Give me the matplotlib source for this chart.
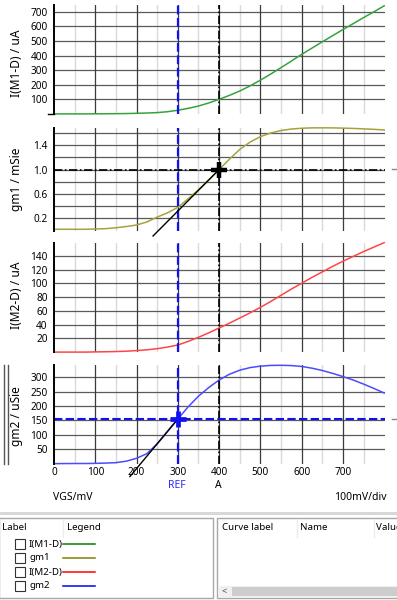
import matplotlib
matplotlib.use("Agg")
import matplotlib.pyplot as plt
from matplotlib.patches import Rectangle
from matplotlib.lines import Line2D

plt.rcParams['font.family'] = ['Noto Sans', 'DejaVu Sans']

# ---------------- data ----------------
vgs = [0, 25, 50, 75, 100, 125, 150, 175, 200, 225, 250, 275, 300, 325, 350, 375, 400,
       425, 450, 475, 500, 525, 550, 575, 600, 625, 650, 675, 700, 725, 750, 775, 800]
i_m1 = [0, 0, 0, 0, 0.5, 1, 1.5, 2.5, 4, 6, 9, 15, 25, 38, 54, 75, 100,
        127, 157, 192, 231, 273, 317, 362, 408, 451, 494, 536, 578, 619, 660, 700, 741]
gm1 = [0.02, 0.02, 0.02, 0.02, 0.025, 0.03, 0.045, 0.065, 0.09, 0.14, 0.22, 0.29, 0.38, 0.52, 0.67, 0.83, 1.0,
       1.17, 1.33, 1.45, 1.54, 1.60, 1.64, 1.665, 1.678, 1.684, 1.685, 1.684, 1.68, 1.675, 1.668, 1.66, 1.65]
i_m2 = [0, 0, 0, 0, 0.3, 0.5, 0.8, 1.3, 2.2, 3.3, 5, 7.3, 10.3, 15.5, 21.5, 28, 35,
        42, 49.5, 57, 65, 73.5, 82.5, 91.5, 100, 108.5, 116.5, 124.5, 132, 139, 146, 152.5, 159]
gm2 = [0.5, 0.8, 1, 1, 1.5, 2.5, 4, 9, 19, 35, 69, 112, 155, 197, 234, 264, 290,
       310, 324, 333, 338, 340.5, 341, 340, 337, 331, 323, 313, 302, 290, 276, 261, 245]

x_ticks = [0, 100, 200, 300, 400, 500, 600, 700]
ref_x = 300
a_x = 400
gm1_at_a = 1.0
gm2_at_ref = 155
tangent1_x = [240, 400]
tangent1_y = [-0.09, 1.0]
tangent2_x = [184, 300]
tangent2_y = [-44, 155]

series_names = ['I(M1-D)', 'gm1', 'I(M2-D)', 'gm2']
curve_colors = ['#35a33c', '#a6a23e', '#ff4545', '#4b4bff']
legend_colors = ['#008000', '#808000', '#ff0000', '#0000ff']
y_labels = ['I(M1-D) / uA', 'gm1 / mSie', 'I(M2-D) / uA', 'gm2 / uSie']

panels = [
    dict(y=i_m1, top=4.5, bottom=113.9, ylim=750, grid=[100, 200, 300, 400, 500, 600, 700],
         ticks=[100, 200, 300, 400, 500, 600, 700], fmt='{:.0f}', lab_y=63),
    dict(y=gm1, top=127.7, bottom=230.5, ylim=1.687, grid=[0.2, 0.4, 0.6, 0.8, 1.0, 1.2, 1.4, 1.6],
         ticks=[0.2, 0.6, 1.0, 1.4], fmt='{:.1f}', lab_y=179),
    dict(y=i_m2, top=243, bottom=352.1, ylim=158.5, grid=[20, 40, 60, 80, 100, 120, 140],
         ticks=[20, 40, 60, 80, 100, 120, 140], fmt='{:.0f}', lab_y=295),
    dict(y=gm2, top=365, bottom=463.8, ylim=342, grid=[50, 100, 150, 200, 250, 300],
         ticks=[50, 100, 150, 200, 250, 300], fmt='{:.0f}', lab_y=416),
]

W, H = 397, 600
fig = plt.figure(figsize=(W / 100, H / 100), dpi=100)
fig.patch.set_facecolor('white')

def fx(px):
    return px / W

def fy(py):
    return 1 - py / H

def fline(x0, y0, x1, y1, **kw):
    fig.add_artist(Line2D([fx(x0), fx(x1)], [fy(y0), fy(y1)], transform=fig.transFigure, **kw))

def frect(x0, y0, x1, y1, **kw):
    fig.add_artist(Rectangle((fx(x0), fy(y1)), fx(x1) - fx(x0), (y1 - y0) / H,
                             transform=fig.transFigure, **kw))

blue_dash = (0, (4, 1.6))
black_dashdot = (0, (5, 1.5, 1, 1.5))

axes = []
for i, p in enumerate(panels):
    ax = fig.add_axes([fx(54), fy(p['bottom']), fx(385) - fx(54), (p['bottom'] - p['top']) / H])
    ax.set_xlim(0, 802)
    ax.set_ylim(0, p['ylim'])
    for s in ['top', 'right', 'bottom']:
        ax.spines[s].set_visible(False)
    ax.spines['left'].set_linewidth(1.4)
    ax.spines['left'].set_color('black')
    ax.spines['left'].set_zorder(6)
    # grid
    for xv in [50, 150, 250, 350, 450, 550, 650, 750]:
        ax.axvline(xv, color='#dadada', lw=1.0, zorder=1)
    for xv in [100, 200, 300, 400, 500, 600, 700]:
        ax.axvline(xv, color='#3a3a3a', lw=0.9, zorder=1.2)
    for yv in p['grid']:
        ax.axhline(yv, color='#5a5a5a', lw=0.9, zorder=1.1)
    # curve
    ax.plot(vgs, p['y'], color=curve_colors[i], lw=1.1, zorder=3, clip_on=False)
    # cursors
    ax.axvline(ref_x, color='#1010f0', lw=1.6, ls=blue_dash, zorder=4)
    ax.axvline(a_x, color='black', lw=1.2, ls=black_dashdot, zorder=4)
    ax.set_yticks(p['ticks'])
    ax.set_yticklabels([p['fmt'].format(t) for t in p['ticks']])
    ax.tick_params(axis='y', length=0, pad=4.5, labelsize=7.2)
    ax.set_xticks(x_ticks)
    if i == 3:
        ax.tick_params(axis='x', length=0, pad=2.5, labelsize=7.2)
    else:
        ax.tick_params(axis='x', length=0, labelbottom=False)
    ax.patch.set_alpha(0)
    fig.text(fx(16.5), fy(p['lab_y']), y_labels[i], rotation=90, ha='center', va='center', fontsize=8.6)
    axes.append(ax)

# gm1 cursor at A
ax2 = axes[1]
ax2.axhline(gm1_at_a, color='black', lw=1.2, ls=black_dashdot, zorder=4)
ax2.plot(tangent1_x, tangent1_y, color='black', lw=1.0, zorder=5, clip_on=False)
ax2.plot([a_x], [gm1_at_a], marker='+', color='black', ms=12, mew=3.2, zorder=6, clip_on=False)

# gm2 cursor at REF
ax4 = axes[3]
ax4.axhline(gm2_at_ref, color='#1010f0', lw=1.5, ls=blue_dash, zorder=4)
ax4.plot(tangent2_x, tangent2_y, color='black', lw=1.0, zorder=5, clip_on=False)
ax4.plot([ref_x], [gm2_at_ref], marker='+', color='#1010f0', ms=12, mew=3.4, zorder=6, clip_on=False)

# small right-side markers and decorations
fline(392, 169, 396, 169, color='#888888', lw=1)
fline(392, 418.7, 396, 418.7, color='#888888', lw=1)
fline(48, 113.9, 54, 113.9, color='black', lw=1)
fline(4, 365, 4, 464, color='#555555', lw=1)
fline(7.5, 365, 7.5, 464, color='#555555', lw=1)

# cursor names and axis text
fig.text(fx(177), fy(485), 'REF', color='#2b2bff', ha='center', va='center', fontsize=7.5)
fig.text(fx(218), fy(485), 'A', color='black', ha='center', va='center', fontsize=7.5)
fig.text(fx(73), fy(497), 'VGS/mV', ha='center', va='center', fontsize=7.5)
fig.text(fx(360), fy(497), '100mV/div', ha='center', va='center', fontsize=7.5)

# ---------------- bottom UI ----------------
frect(-2, 511.5, 399, 514.5, facecolor='#d8d8d8', edgecolor='none')
frect(-1, 518, 213, 598, facecolor='white', edgecolor='#a8a8a8', lw=1)
frect(217, 518, 399, 598, facecolor='white', edgecolor='#a8a8a8', lw=1)
fline(63, 519, 63, 537, color='#ececec', lw=1)
fline(297, 519, 297, 537, color='#ececec', lw=1)
fline(374, 519, 374, 537, color='#ececec', lw=1)
fig.text(fx(2), fy(528), 'Label', ha='left', va='center', fontsize=7)
fig.text(fx(67), fy(528), 'Legend', ha='left', va='center', fontsize=7)
fig.text(fx(222), fy(528), 'Curve label', ha='left', va='center', fontsize=7)
fig.text(fx(300), fy(528), 'Name', ha='left', va='center', fontsize=7)
fig.text(fx(376), fy(528), 'Value', ha='left', va='center', fontsize=7, clip_on=True)

row_y = [544, 558, 572, 586]
for name, col, yy in zip(series_names, legend_colors, row_y):
    frect(15, yy - 5, 25, yy + 5, facecolor='white', edgecolor='#333333', lw=0.8)
    fig.text(fx(29), fy(yy), name, ha='left', va='center', fontsize=7)
    fline(63, yy, 95, yy, color=col, lw=1.1)

# scrollbar
frect(218, 586, 399, 597, facecolor='#f0f0f0', edgecolor='none')
frect(232, 587, 399, 596, facecolor='#cdcdcd', edgecolor='none')
fig.text(fx(224.5), fy(591.5), '<', ha='center', va='center', fontsize=6.5, color='#444444')

fig.savefig('out.png', dpi=100, facecolor='white')
